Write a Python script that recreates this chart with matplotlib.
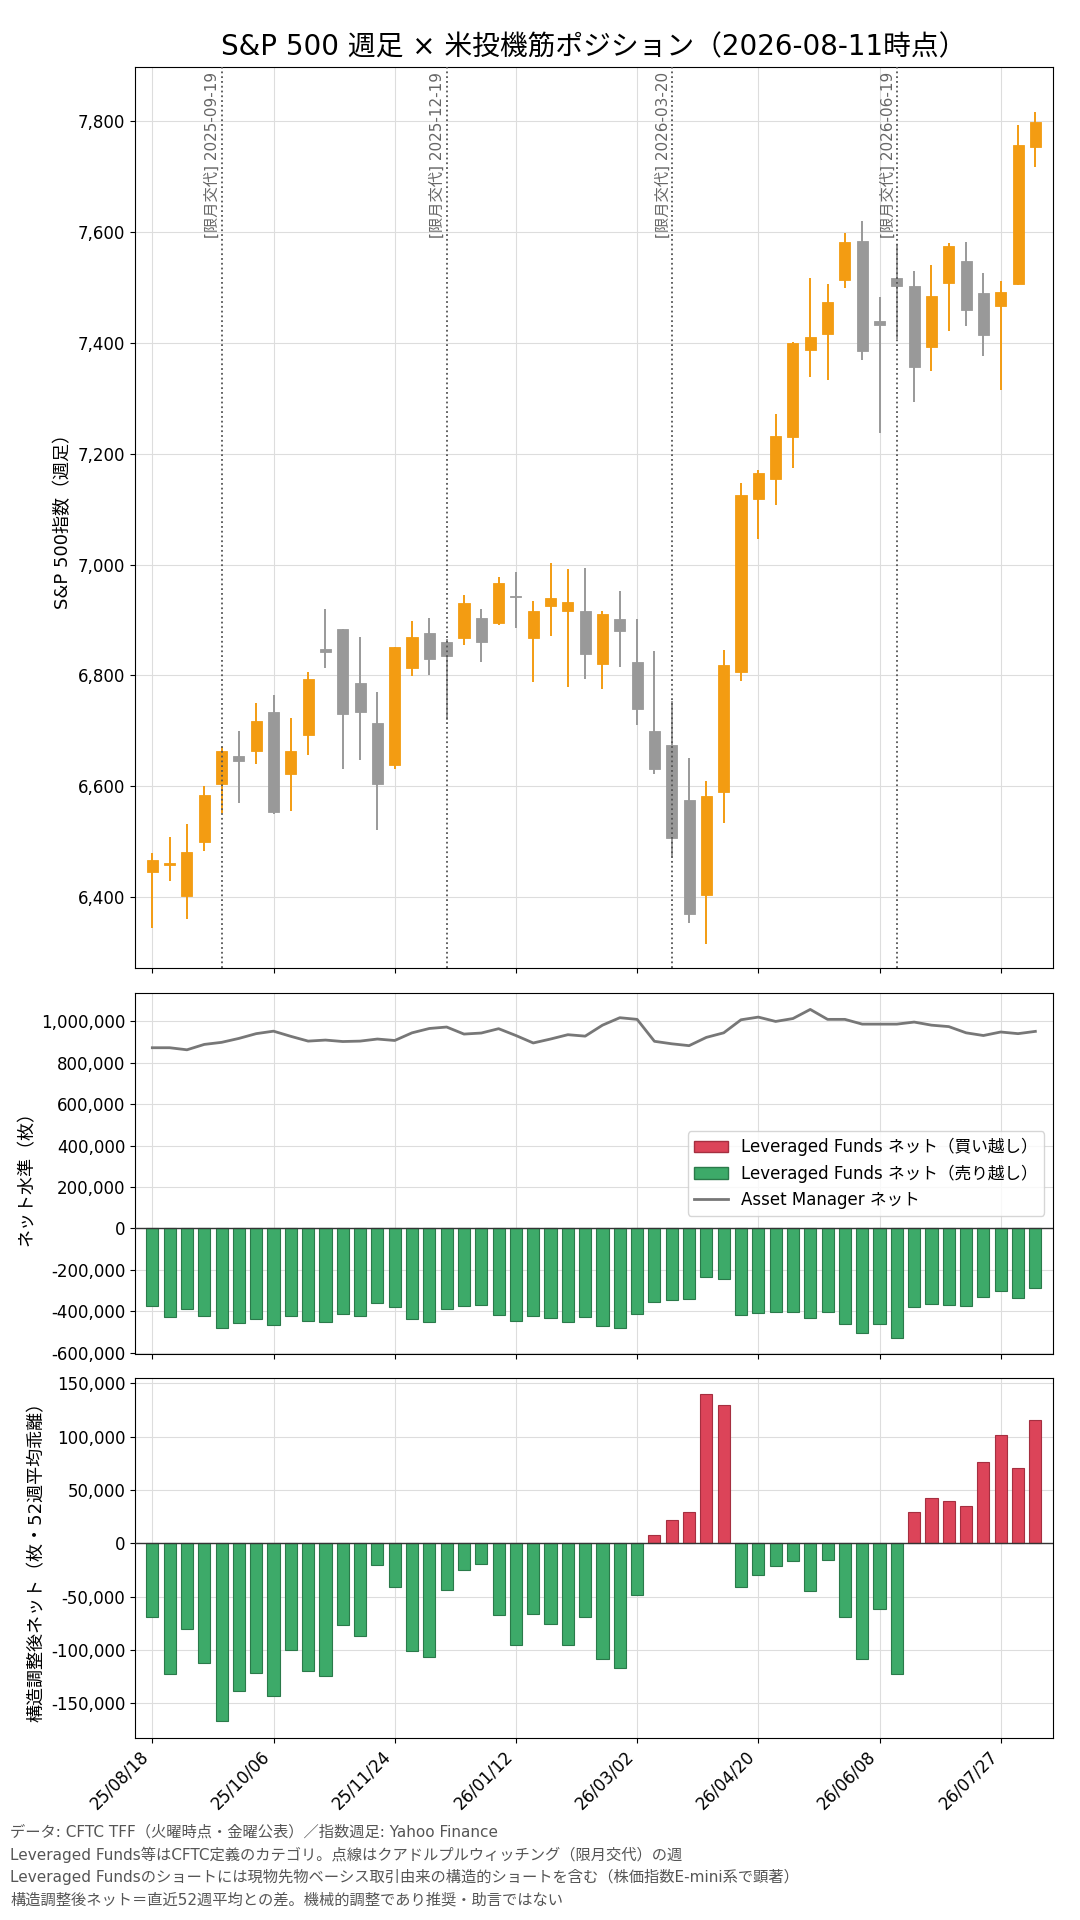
import matplotlib
matplotlib.use("Agg")
import matplotlib.pyplot as plt
from matplotlib.patches import Patch
from matplotlib.lines import Line2D
from matplotlib.ticker import FuncFormatter
import numpy as np
import pandas as pd

plt.rcParams['font.family'] = ['DejaVu Sans', 'Noto Sans CJK JP']
plt.rcParams['axes.unicode_minus'] = False

# weekly bars (week start Monday)
dates = pd.date_range("2025-08-18", periods=52, freq="7D")

# S&P 500 weekly OHLC
opens = [6446, 6459, 6403, 6499, 6605, 6655, 6663, 6735, 6623, 6692,
         6847, 6883, 6786, 6715, 6638, 6813, 6876, 6861, 6867, 6904,
         6894, 6943, 6867, 6925, 6917, 6917, 6820, 6902, 6825, 6700,
         6675, 6575, 6404, 6589, 6807, 7118, 7154, 7230, 7387, 7416,
         7513, 7583, 7440, 7517, 7502, 7392, 7508, 7548, 7489, 7466,
         7506, 7753]
highs = [6480, 6508, 6532, 6600, 6671, 6699, 6751, 6764, 6723, 6807,
         6920, 6883, 6870, 6770, 6852, 6898, 6904, 6866, 6945, 6920,
         6978, 6987, 6934, 7003, 6992, 6994, 6916, 6952, 6901, 6844,
         6754, 6651, 6610, 6846, 7148, 7170, 7272, 7402, 7517, 7506,
         7598, 7620, 7483, 7578, 7530, 7541, 7580, 7582, 7526, 7512,
         7793, 7816]
lows = [6344, 6430, 6361, 6484, 6552, 6570, 6640, 6551, 6555, 6657,
        6814, 6631, 6648, 6522, 6631, 6799, 6801, 6720, 6855, 6824,
        6891, 6886, 6788, 6871, 6779, 6793, 6775, 6816, 6710, 6623,
        6473, 6354, 6316, 6534, 6790, 7047, 7108, 7175, 7339, 7333,
        7499, 7369, 7238, 7406, 7294, 7349, 7422, 7431, 7377, 7314,
        7505, 7717]
closes = [6467, 6461, 6482, 6585, 6664, 6645, 6717, 6553, 6664, 6793,
          6842, 6730, 6735, 6604, 6851, 6870, 6829, 6836, 6930, 6860,
          6967, 6942, 6917, 6940, 6933, 6838, 6910, 6880, 6740, 6632,
          6507, 6370, 6583, 6818, 7126, 7166, 7231, 7399, 7410, 7474,
          7581, 7385, 7432, 7502, 7356, 7484, 7575, 7459, 7414, 7491,
          7757, 7799]

# CFTC TFF net positions (contracts)
lev_net = [-373, -426, -387, -421, -479, -455, -439, -465, -421, -445,
           -450, -412, -421, -358, -378, -439, -450, -387, -373, -368,
           -416, -445, -421, -431, -450, -426, -470, -479, -412, -357,
           -347, -342, -233, -243, -416, -407, -402, -402, -431, -402,
           -460, -503, -460, -527, -378, -363, -368, -373, -330, -304,
           -334, -286]
am_net = [873, 873, 863, 889, 899, 918, 941, 953, 928, 905,
          910, 903, 905, 915, 908, 945, 966, 973, 939, 944,
          965, 932, 896, 915, 936, 929, 982, 1018, 1010, 904,
          892, 883, 923, 945, 1008, 1021, 1000, 1014, 1058, 1010,
          1010, 987, 987, 987, 997, 982, 975, 945, 932, 949,
          941, 952]
adj_net = [-69.4, -122.8, -80.6, -112.5, -166.9, -138.8, -121.9, -143.4, -100.3, -120.0,
           -124.7, -76.9, -87.2, -20.6, -41.3, -101.3, -106.9, -44.1, -25.3, -19.7,
           -67.5, -95.6, -66.6, -75.9, -95.6, -69.4, -108.8, -117.2, -48.8, 7.5,
           21.6, 29.1, 139.7, 129.4, -41.3, -30.0, -21.6, -16.9, -45.0, -15.9,
           -69.4, -108.8, -61.9, -122.8, 29.1, 42.2, 39.4, 34.7, 75.9, 101.3,
           70.3, 115.3]

# quad witching weeks
roll_idx = [4, 17, 30, 43]
roll_labels = ["2025-09-19", "2025-12-19", "2026-03-20", "2026-06-19"]

footer = [
    "データ: CFTC TFF（火曜時点・金曜公表）／指数週足: Yahoo Finance",
    "Leveraged Funds等はCFTC定義のカテゴリ。点線はクアドルプルウィッチング（限月交代）の週",
    "Leveraged Fundsのショートには現物先物ベーシス取引由来の構造的ショートを含む（株価指数E-mini系で顕著）",
    "構造調整後ネット＝直近52週平均との差。機械的調整であり推奨・助言ではない",
]

UP = '#F39C12'
DOWN = '#999999'
RED = '#DC4459'
RED_EDGE = '#A52F40'
GREEN = '#3DAA69'
GREEN_EDGE = '#2A7A4A'

x = np.arange(len(dates))
o = np.array(opens, float)
h = np.array(highs, float)
l = np.array(lows, float)
c = np.array(closes, float)
lev = np.array(lev_net, float) * 1000
am = np.array(am_net, float) * 1000
adj = np.array(adj_net, float) * 1000

fmt = FuncFormatter(lambda v, _: f'{v:,.0f}')

fig = plt.figure(figsize=(10.8, 19.2), dpi=100)
ax1 = fig.add_axes([0.125, 0.4957, 0.8497, 0.4696])
ax2 = fig.add_axes([0.125, 0.2948, 0.8497, 0.188], sharex=ax1)
ax3 = fig.add_axes([0.125, 0.0950, 0.8497, 0.1873], sharex=ax1)

# --- candles
cols = np.where(c >= o, UP, DOWN)
ax1.vlines(x, l, h, colors=cols, linewidth=1.4, zorder=2)
ax1.bar(x, np.abs(c - o), bottom=np.minimum(o, c), width=0.64,
        color=cols, edgecolor=cols, linewidth=0.6, zorder=3)
for i, d in zip(roll_idx, roll_labels):
    ax1.axvline(i, color='#555555', linestyle=':', linewidth=1.3, zorder=4)
    ax1.text(i - 0.08, 0.994, f'[限月交代] {d}', transform=ax1.get_xaxis_transform(),
             rotation=90, ha='right', va='top', fontsize=11, color='#666666', zorder=5)
ax1.set_ylim(6272, 7898)
ax1.set_ylabel('S&P 500指数（週足）', fontsize=13)
ax1.set_title('S&P 500 週足 × 米投機筋ポジション（2026-08-11時点）', fontsize=20, pad=8)

# --- net levels
ax2.bar(x, lev, width=0.7, color=np.where(lev >= 0, RED, GREEN),
        edgecolor=np.where(lev >= 0, RED_EDGE, GREEN_EDGE), linewidth=0.8, zorder=2)
ax2.plot(x, am, color='#777777', linewidth=2, zorder=3)
ax2.axhline(0, color='#333333', linewidth=1, zorder=3)
ax2.set_ylabel('ネット水準（枚）', fontsize=13)
handles = [Patch(facecolor=RED, edgecolor=RED_EDGE, label='Leveraged Funds ネット（買い越し）'),
           Patch(facecolor=GREEN, edgecolor=GREEN_EDGE, label='Leveraged Funds ネット（売り越し）'),
           Line2D([0], [0], color='#777777', linewidth=2, label='Asset Manager ネット')]
ax2.legend(handles=handles, loc='center right', fontsize=12)

# --- structure adjusted net
ax3.bar(x, adj, width=0.7, color=np.where(adj >= 0, RED, GREEN),
        edgecolor=np.where(adj >= 0, RED_EDGE, GREEN_EDGE), linewidth=0.8, zorder=2)
ax3.axhline(0, color='#333333', linewidth=1, zorder=3)
ax3.set_ylabel('構造調整後ネット（枚・52週平均乖離）', fontsize=13)

for ax in (ax1, ax2, ax3):
    ax.grid(True, color='#dddddd', linewidth=0.8)
    ax.set_axisbelow(True)
    ax.yaxis.set_major_formatter(fmt)
    ax.tick_params(labelsize=12)

ax1.set_xlim(-1, 52)
ax3.set_xticks(x[::7])
ax3.set_xticklabels(dates[::7].strftime('%y/%m/%d'), rotation=45, ha='right')
ax1.tick_params(labelbottom=False)
ax2.tick_params(labelbottom=False)

for k, line in enumerate(footer):
    fig.text(0.0093, 0.0460 - k * 0.0119, line, fontsize=11, color='#555555', va='center')

fig.savefig('out.png', dpi=100)
